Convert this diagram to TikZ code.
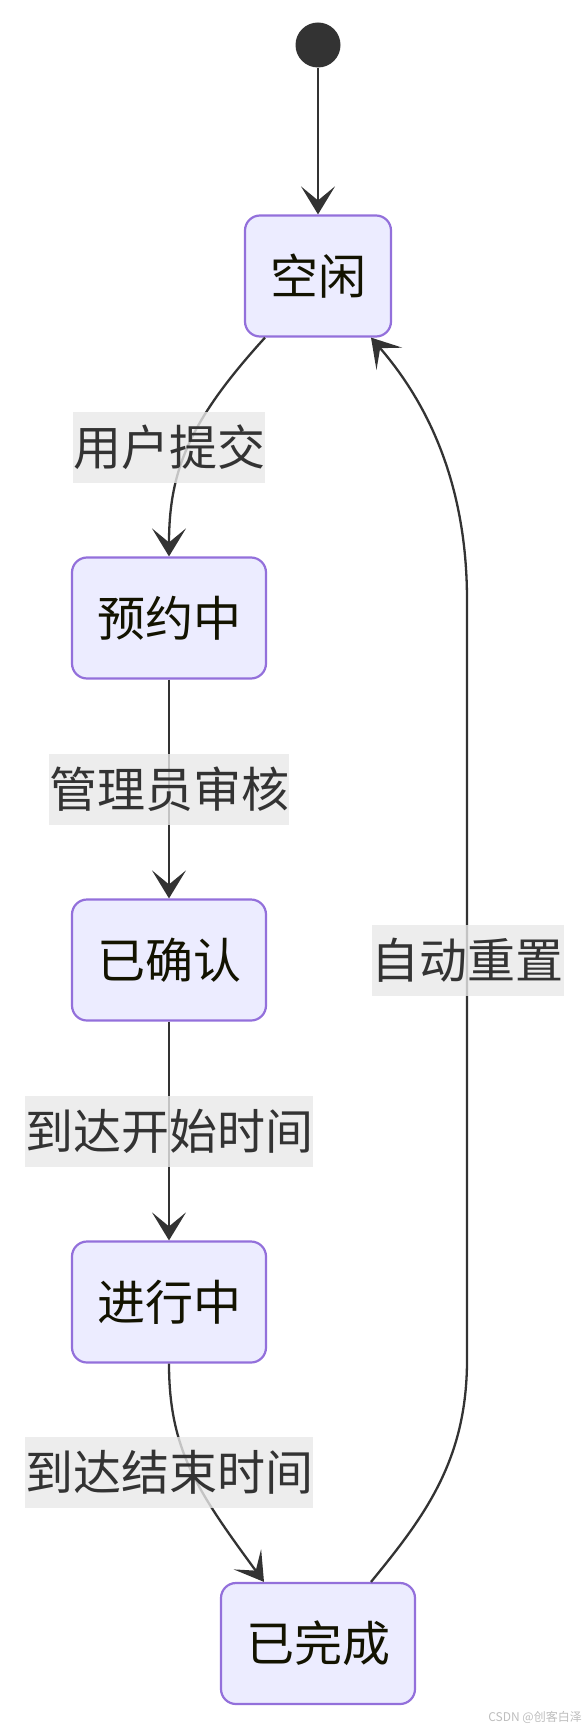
\documentclass[tikz,border=0pt]{standalone}
\usepackage{fontspec}
\setmainfont{Noto Sans CJK SC}
\usetikzlibrary{arrows.meta,calc}
\definecolor{nodefill}{HTML}{ECECFF}
\definecolor{nodeline}{HTML}{9370DB}
\definecolor{edgecol}{HTML}{333333}
\definecolor{labelbg}{HTML}{E8E8E8}
\definecolor{nodetext}{HTML}{131300}
\definecolor{wmark}{HTML}{BDBDBD}
\begin{document}
\begin{tikzpicture}[x=1pt,y=-1pt,
  statebox/.style={draw=nodeline, fill=nodefill, line width=2.2pt, rounded corners=15pt,
    inner xsep=25pt, inner ysep=0pt, minimum height=121pt, text=nodetext,
    font=\fontsize{48}{58}\selectfont},
  elabel/.style={fill=labelbg, fill opacity=0.8, text opacity=1, text=edgecol,
    inner xsep=0pt, inner ysep=0pt, minimum height=71pt,
    font=\fontsize{48}{58}\selectfont},
  edge/.style={draw=edgecol, line width=2.3pt,
    -{Stealth[length=28pt, width=34pt, inset=14pt]}},
  startdot/.style={circle, fill=edgecol, minimum size=45pt, inner sep=0pt}
]
\useasboundingbox (0,0) rectangle (585,1728);

\node[startdot] (start) at (318,45) {};
\node[statebox] (idle) at (318,276) {空闲};
\node[statebox] (book) at (169,618) {预约中};
\node[statebox] (conf) at (169,960) {已确认};
\node[statebox] (run) at (169,1302) {进行中};
\node[statebox] (done) at (318,1643.5) {已完成};

\draw[edge] (start) -- (idle);
\draw[edge] ($(idle.south)+(-53,0)$) .. controls (190,420) and (169,470) .. (book.north);
\draw[edge] (book) -- (conf);
\draw[edge] (conf) -- (run);
\draw[edge] (run.south) .. controls (169,1450) and (198,1492) .. ($(done.north)+(-54,0)$);
\draw[edge] ($(done.north)+(53,0)$) .. controls (425,1516) and (467,1460) .. (467,1360)
  -- (467,600) .. controls (467,480) and (425,400) .. ($(idle.south)+(53,0)$);

\node[elabel] (l1) at (169,447) {用户提交};
\node[elabel] (l2) at (169,789) {管理员审核};
\node[elabel] (l3) at (169,1131) {到达开始时间};
\node[elabel] (l4) at (169,1472.5) {到达结束时间};
\node[elabel] (l5) at (467.5,960) {自动重置};

\node[text=wmark, font=\fontsize{12}{14}\selectfont, inner sep=0pt, anchor=east] (wm) at (582,1717) {CSDN @创客白泽};
\end{tikzpicture}
\end{document}
